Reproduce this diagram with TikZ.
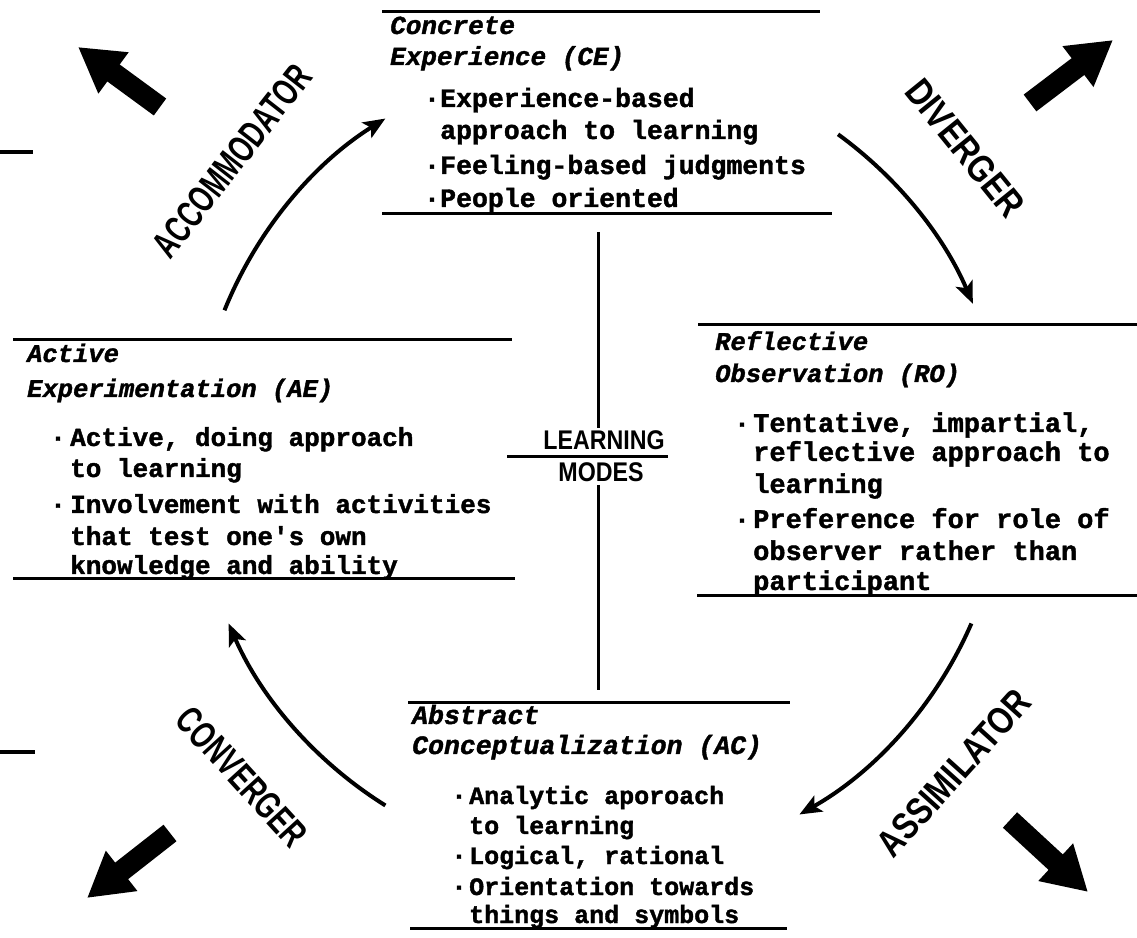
\documentclass[tikz,border=0pt]{standalone}
\usepackage{fontspec}
\setmainfont{Liberation Serif}
\newfontfamily\monof{Liberation Mono}[BoldFeatures={FakeBold=1.5},BoldItalicFeatures={FakeBold=1.5}]
\newfontfamily\labA{Liberation Sans}[FakeStretch=0.69]
\newfontfamily\labB{Liberation Sans}[FakeStretch=0.83]
\newfontfamily\labC{Liberation Sans}[FakeStretch=0.81]
\newfontfamily\labD{Liberation Sans}[FakeStretch=0.71]
\newfontfamily\labM{Liberation Sans}[FakeStretch=0.86]
\usetikzlibrary{arrows.meta,calc}
\tikzset{
  rule/.style={line width=3pt},
  bd/.style={anchor=base west, inner sep=0pt, font=\monof\bfseries\fontsize{#1}{#1}\selectfont},
  hd/.style={anchor=base west, inner sep=0pt, font=\monof\bfseries\itshape\fontsize{#1}{#1}\selectfont},
  bul/.style={anchor=base, inner sep=0pt, font=\monof\bfseries\fontsize{#1}{#1}\selectfont},
  lab/.style={inner sep=0pt},
  labsize/.style={font=#1\bfseries\fontsize{38}{38}\selectfont},
  modes/.style={anchor=base, inner sep=0pt, font=\labM\bfseries\fontsize{27}{27}\selectfont},
  curvearrow/.style={line width=4pt, -{Stealth[length=22pt,width=18pt,inset=5pt]}},
  bigarrow/.style={line width=21pt, -{Triangle[length=44pt,width=48pt]}},
}
\begin{document}
\begin{tikzpicture}[x=1pt,y=1pt]
\useasboundingbox (0,0) rectangle (1137,937);

% ---------- Concrete Experience ----------
\draw[rule] (382,925) -- (820,925);
\draw[rule] (382,723) -- (832,723);
\node[hd=26] (ceh1) at (390,903) {Concrete};
\node[hd=26] (ceh2) at (390,872) {Experience (CE)};
\node[bul=26] (ceb1) at (432,830) {·};
\node[bd=26.5] (cel1) at (440,830) {Experience-based};
\node[bd=26.5] (cel2) at (440,798) {approach to learning};
\node[bul=26] (ceb2) at (432,763) {·};
\node[bd=26.5] (cel3) at (440,763) {Feeling-based judgments};
\node[bul=26] (ceb3) at (432,730) {·};
\node[bd=26.5] (cel4) at (440,730) {People oriented};

% ---------- Active Experimentation ----------
\draw[rule] (13,597) -- (512,597);
\draw[rule] (13,358) -- (515,358);
\node[hd=25.5] (aeh1) at (27,575) {Active};
\node[hd=25.5] (aeh2) at (27,540) {Experimentation (AE)};
\node[bul=26] (aeb1) at (58,491) {·};
\node[bd=26] (ael1) at (70,491) {Active, doing approach};
\node[bd=26] (ael2) at (70,460) {to learning};
\node[bul=26] (aeb2) at (58,424) {·};
\node[bd=26] (ael3) at (70,424) {Involvement with activities};
\node[bd=26] (ael4) at (70,392) {that test one's own};
\node[bd=26] (ael5) at (70,363) {knowledge and ability};

% ---------- Reflective Observation ----------
\draw[rule] (698,612) -- (1137,612);
\draw[rule] (697,341) -- (1137,341);
\node[hd=25.5] (roh1) at (715,587) {Reflective};
\node[hd=25.5] (roh2) at (715,555) {Observation (RO)};
\node[bul=26] (rob1) at (742,505) {·};
\node[bd=27] (rol1) at (753,505) {Tentative, impartial,};
\node[bd=27] (rol2) at (753,476) {reflective approach to};
\node[bd=27] (rol3) at (753,444) {learning};
\node[bul=26] (rob2) at (742,409) {·};
\node[bd=27] (rol4) at (753,409) {Preference for role of};
\node[bd=27] (rol5) at (753,377) {observer rather than};
\node[bd=27] (rol6) at (753,347) {participant};

% ---------- Abstract Conceptualization ----------
\draw[rule] (408,234) -- (790,234);
\draw[rule] (410,9) -- (787,9);
\node[hd=26.5] (ach1) at (412,213) {Abstract};
\node[hd=26.5] (ach2) at (412,183) {Conceptualization (AC)};
\node[bul=26] (acb1) at (459,133) {·};
\node[bd=25] (acl1) at (469,133) {Analytic aporoach};
\node[bd=25] (acl2) at (469,103) {to learning};
\node[bul=26] (acb2) at (459,73) {·};
\node[bd=25] (acl3) at (469,73) {Logical, rational};
\node[bul=26] (acb3) at (459,42) {·};
\node[bd=25] (acl4) at (469,42) {Orientation towards};
\node[bd=25] (acl5) at (469,14) {things and symbols};

% ---------- Learning modes cross ----------
\coordinate (vt) at (598,705);
\coordinate (vm1) at (598,509);
\coordinate (vm2) at (598,452);
\coordinate (vb) at (598,247);
\coordinate (hl) at (507,480);
\coordinate (hr) at (668,480);
\draw[rule] (vt) -- (vm1);
\draw[rule] (vm2) -- (vb);
\draw[rule] (hl) -- (hr);
\node[modes] (lm1) at (604,487) {LEARNING};
\node[modes] (lm2) at (601,455) {MODES};

% ---------- cycle arrows ----------
\coordinate (c) at (600,475);
\draw[curvearrow] ($(c)+(158:405)$) arc[start angle=158, end angle=122, radius=405];
\draw[curvearrow] ($(c)+(54:405)$) arc[start angle=54, end angle=23, radius=405];
\draw[curvearrow] ($(c)+(-23.5:405)$) arc[start angle=-23.5, end angle=-60.5, radius=405];
\draw[curvearrow] ($(c)+(-122:405)$) arc[start angle=-122, end angle=-156.5, radius=405];

% ---------- style labels ----------
\node[lab, labsize=\labA, rotate=52] (acc) at (232,776) {ACCOMMODATOR};
\node[lab, labsize=\labB, rotate=-51] (div) at (965,789) {DIVERGER};
\node[lab, labsize=\labC, rotate=48] (ass) at (954,164) {ASSIMILATOR};
\node[lab, labsize=\labD, rotate=-47.6] (con) at (242,160) {CONVERGER};

% ---------- big outward arrows ----------
\coordinate (tl0) at (160,830); \coordinate (tl1) at (78,890);
\coordinate (tr0) at (1030,834); \coordinate (tr1) at (1113,897);
\coordinate (br0) at (1010,117); \coordinate (br1) at (1088,45);
\coordinate (bl0) at (170,104); \coordinate (bl1) at (87,39);
\draw[bigarrow] (tl0) -- (tl1);
\draw[bigarrow] (tr0) -- (tr1);
\draw[bigarrow] (br0) -- (br1);
\draw[bigarrow] (bl0) -- (bl1);

% ---------- stray marks at the left edge ----------
\draw[line width=4pt] (0,785) -- (33,785);
\draw[line width=4pt] (0,185) -- (35,185);
\end{tikzpicture}
\end{document}
